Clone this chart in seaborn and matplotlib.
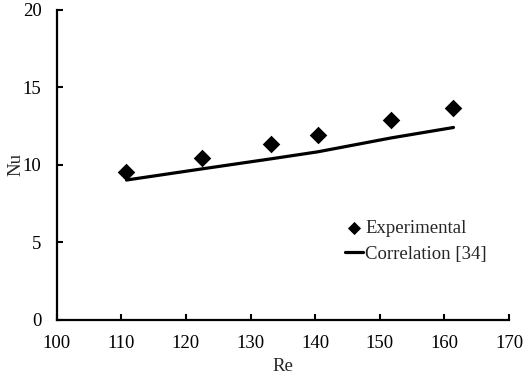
import matplotlib
matplotlib.use("Agg")
import matplotlib.pyplot as plt
import seaborn as sns
import pandas as pd

re_exp = [110.8, 122.5, 133.2, 140.4, 151.8, 161.4]
nu_exp = [9.55, 10.45, 11.35, 11.95, 12.9, 13.65]
re_corr = [110.8, 122.5, 133.2, 140.4, 151.8, 161.4]
nu_corr = [9.03, 9.75, 10.4, 10.85, 11.75, 12.42]
x_ticks = [100, 110, 120, 130, 140, 150, 160, 170]
y_ticks = [0, 5, 10, 15, 20]

sns.set_style("ticks")
plt.rcParams['font.family'] = ['Liberation Serif', 'DejaVu Serif']

fig = plt.figure(figsize=(5.26, 3.77), dpi=100)
ax = fig.add_axes([0.1078, 0.1512, 0.86, 0.8223])

df_exp = pd.DataFrame({"Re": re_exp, "Nu": nu_exp})
df_corr = pd.DataFrame({"Re": re_corr, "Nu": nu_corr})

sns.lineplot(data=df_corr, x="Re", y="Nu", ax=ax, color="black", linewidth=2.3,
             label="Correlation [34]")
sns.scatterplot(data=df_exp, x="Re", y="Nu", ax=ax, marker="D", color="black",
                s=80, edgecolor="black", linewidth=0, label="Experimental", zorder=3)

ax.set_xlim(100, 170)
ax.set_ylim(0, 20)
ax.set_xticks(x_ticks)
ax.set_yticks(y_ticks)
ax.tick_params(axis="both", direction="in", length=4, width=1.5, labelsize=13.5,
               color="black", labelcolor="black")
ax.tick_params(axis="x", pad=11)
ax.tick_params(axis="y", pad=11)
for s in ["left", "bottom"]:
    ax.spines[s].set_linewidth(1.6)
    ax.spines[s].set_color("black")
sns.despine(ax=ax)
ax.set_xlabel("Re", fontsize=13.5, labelpad=4)
ax.set_ylabel("Nu", fontsize=13.5, labelpad=-1)

handles, labels = ax.get_legend_handles_labels()
order = [labels.index("Experimental"), labels.index("Correlation [34]")]
leg = ax.legend([handles[i] for i in order], [labels[i] for i in order],
                loc="upper left", bbox_to_anchor=(0.62, 0.347), frameon=False,
                fontsize=13.5, handlelength=1.0, handletextpad=0.1,
                markerscale=0.75, labelspacing=0.45, borderaxespad=0)

fig.savefig("out.png", dpi=100)
